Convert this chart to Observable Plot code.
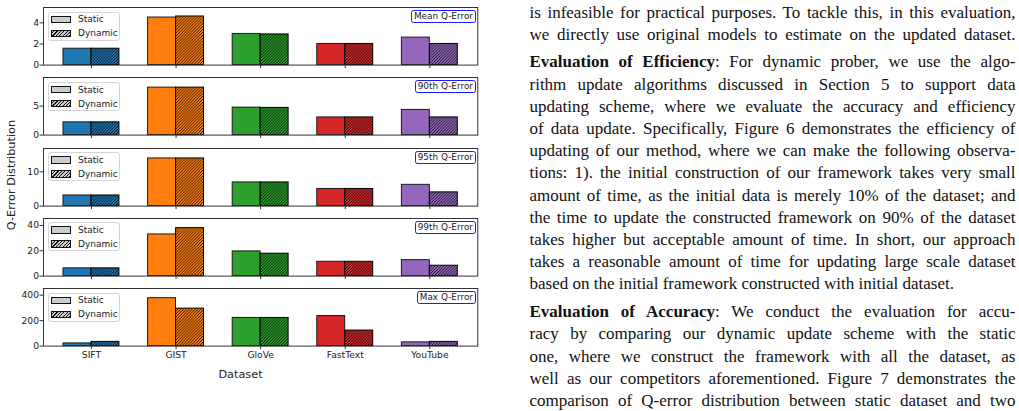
<!DOCTYPE html>
<html>
<head>
<meta charset="utf-8">
<script src="https://cdn.jsdelivr.net/npm/d3@7"></script>
<script src="https://cdn.jsdelivr.net/npm/@observablehq/plot@0.6"></script>
<style>
  html, body { margin: 0; padding: 0; background: #fff; }
  #page { position: relative; width: 1019px; height: 411px; overflow: hidden; background: #fff; }
  #chart { position: absolute; left: 0; top: 0; width: 520px; height: 411px; }
  .panel { position: absolute; left: 0; }
  .legend { position: absolute; left: 47.5px; width: 72.5px; height: 29px; box-sizing: border-box;
    border: 1px solid #d4d4d4; border-radius: 2.5px; background: rgba(255,255,255,0.85);
    font-family: "DejaVu Sans", sans-serif; font-size: 9px; color: #222; }
  .legend .row { position: absolute; left: 2.5px; height: 12px; display: flex; align-items: center; }
  .legend .patch { width: 18px; height: 5.5px; border: 1px solid #111; box-sizing: content-box; margin-right: 7px; }
  .legend .static { background: #cccccc; }
  .legend .dyn { background: repeating-linear-gradient(-45deg, #111 0 0.8px, #cccccc 0.8px 2.4px); }
  .tag { position: absolute; right: 44.5px; height: 13px; box-sizing: border-box; padding: 0 1.5px 0 2px;
    border: 1px solid #1a1aff; border-radius: 2.5px; background: #fff;
    font-family: "DejaVu Sans", sans-serif; font-size: 8.9px; line-height: 11px; color: #222; white-space: nowrap; }
  .xlabel { position: absolute; left: 240.5px; top: 374px; transform: translate(-50%, -50%);
    font-family: "DejaVu Sans", sans-serif; font-size: 11.3px; color: #222; white-space: nowrap; }
  .ylabel { position: absolute; left: 11px; top: 175px; transform: translate(-50%, -50%) rotate(-90deg);
    font-family: "DejaVu Sans", sans-serif; font-size: 11.3px; color: #222; white-space: nowrap; }
  #text { position: absolute; left: 529.5px; top: 0; width: 486px; height: 411px;
    font-family: "Liberation Serif", "Times New Roman", serif; font-size: 17px; color: #111; }
  #text .line { position: absolute; left: 0; width: 486px; height: 20px; line-height: 20px; white-space: nowrap; }
  #text .line span { white-space: nowrap; }
</style>
</head>
<body>
<div id="page">
  <svg width="0" height="0" style="position:absolute" id="defs-svg"><defs id="defs"></defs></svg>
  <div id="chart"></div>
  <div id="text"></div>
</div>
<script>
// ---------------- data ----------------
const datasets = ["SIFT", "GIST", "GloVe", "FastText", "YouTube"];
const metrics = ["Mean Q-Error", "90th Q-Error", "95th Q-Error", "99th Q-Error", "Max Q-Error"];
const seriesNames = ["Static", "Dynamic"];

const meanStatic  = [1.55, 4.5, 2.95, 2.0, 2.6];
const meanDynamic = [1.55, 4.6, 2.9, 2.0, 2.0];
const p90Static   = [2.2, 8.2, 4.75, 3.05, 4.35];
const p90Dynamic  = [2.2, 8.2, 4.7, 3.05, 3.05];
const p95Static   = [3.1, 13.9, 6.9, 5.0, 6.2];
const p95Dynamic  = [3.1, 13.9, 6.9, 5.0, 4.0];
const p99Static   = [6.1, 32.9, 19.5, 11.3, 12.6];
const p99Dynamic  = [6.1, 37.9, 17.7, 11.3, 8.2];
const maxStatic   = [21, 376, 221, 236, 29];
const maxDynamic  = [33, 294, 221, 122, 33];

const yMax   = [5.45, 9.95, 16.8, 45.5, 452];
const yTicks = [[0, 2, 4], [0, 5], [0, 10], [0, 20, 40], [0, 200, 400]];

const xLabel = "Dataset";
const yLabel = "Q-Error Distribution";

const staticSeries  = [meanStatic, p90Static, p95Static, p99Static, maxStatic];
const dynamicSeries = [meanDynamic, p90Dynamic, p95Dynamic, p99Dynamic, maxDynamic];

// ---------------- styling ----------------
const palette = ["#1f77b4", "#ff7f0e", "#2ca02c", "#d62728", "#9467bd"];
const panelTop = [7, 77.25, 147.5, 217.75, 288];
const panelH = 57.6;

// hatch patterns
const defs = d3.select("#defs");
palette.forEach((c, k) => {
  const s = 2.9;
  const p = defs.append("pattern").attr("id", "hatch-" + k)
    .attr("patternUnits", "userSpaceOnUse").attr("width", s).attr("height", s);
  p.append("rect").attr("width", s).attr("height", s).attr("fill", c);
  p.append("path").attr("d", `M-1,1 L1,-1 M0,${s} L${s},0 M${s - 1},${s + 1} L${s + 1},${s - 1}`)
    .attr("stroke", "#000").attr("stroke-width", 0.85);
});

const chart = document.getElementById("chart");
metrics.forEach((m, i) => {
  const rows = datasets.map((d, k) => ({ dataset: d, k, stat: staticSeries[i][k], dyn: dynamicSeries[i][k] }));
  const last = i === metrics.length - 1;
  const mt = 4, mb = last ? 22 : 6;
  const plot = Plot.plot({
    width: 520,
    height: panelH + mt + mb,
    marginLeft: 43, marginRight: 42.7, marginTop: mt, marginBottom: mb,
    style: { fontFamily: "DejaVu Sans, sans-serif", fontSize: "9.2px", color: "#222", background: "transparent", overflow: "visible" },
    x: { domain: datasets, paddingInner: 0.339, paddingOuter: 0.236, round: false, label: null },
    y: { domain: [0, yMax[i]], label: null },
    color: { type: "identity" },
    marks: [
      Plot.barY(rows, { x: "dataset", y: "stat", fill: d => palette[d.k], stroke: "#1a1a1a", strokeWidth: 1, insetRight: 28 }),
      Plot.barY(rows, { x: "dataset", y: "dyn", fill: d => `url(#hatch-${d.k})`, stroke: "#000", strokeWidth: 1, insetLeft: 28 }),
      Plot.axisY({ ticks: yTicks[i], tickFormat: d => String(d), tickSize: 3.5, tickPadding: 1, label: null, stroke: "#333" }),
      Plot.axisX({ tickSize: 3.5, tickPadding: 1.5, label: null, stroke: "#333", tickFormat: last ? d => d : () => "" }),
      Plot.frame({ stroke: "#333", strokeWidth: 1 })
    ]
  });
  plot.classList.add("panel");
  plot.style.top = (panelTop[i] - mt) + "px";
  chart.appendChild(plot);

  // legend
  const lg = document.createElement("div");
  lg.className = "legend";
  lg.style.top = (panelTop[i] + 4.7) + "px";
  seriesNames.forEach((name, j) => {
    const row = document.createElement("div");
    row.className = "row";
    row.style.top = (j === 0 ? 0.8 : 14.6) + "px";
    const patch = document.createElement("div");
    patch.className = "patch " + (j === 0 ? "static" : "dyn");
    const t = document.createElement("span");
    t.textContent = name;
    row.appendChild(patch); row.appendChild(t);
    lg.appendChild(row);
  });
  chart.appendChild(lg);

  // metric tag
  const tag = document.createElement("div");
  tag.className = "tag";
  tag.style.top = (panelTop[i] + 3.2) + "px";
  tag.textContent = m;
  chart.appendChild(tag);
});

const xl = document.createElement("div"); xl.className = "xlabel"; xl.textContent = xLabel; chart.appendChild(xl);
const yl = document.createElement("div"); yl.className = "ylabel"; yl.textContent = yLabel; chart.appendChild(yl);

// ---------------- body text ----------------
const textLines = [
  { t: "is infeasible for practical purposes. To tackle this, in this evaluation," },
  { t: "we directly use original models to estimate on the updated dataset." },
  { b: "Evaluation of Efficiency", t: ": For dynamic prober, we use the algo-", para: true },
  { t: "rithm update algorithms discussed in Section 5 to support data" },
  { t: "updating scheme, where we evaluate the accuracy and efficiency" },
  { t: "of data update. Specifically, Figure 6 demonstrates the efficiency of" },
  { t: "updating of our method, where we can make the following observa-" },
  { t: "tions: 1). the initial construction of our framework takes very small" },
  { t: "amount of time, as the initial data is merely 10% of the dataset; and" },
  { t: "the time to update the constructed framework on 90% of the dataset" },
  { t: "takes higher but acceptable amount of time. In short, our approach" },
  { t: "takes a reasonable amount of time for updating large scale dataset" },
  { t: "based on the initial framework constructed with initial dataset.", last: true },
  { b: "Evaluation of Accuracy", t: ": We conduct the evaluation for accu-", para: true },
  { t: "racy by comparing our dynamic update scheme with the static" },
  { t: "one, where we construct the framework with all the dataset, as" },
  { t: "well as our competitors aforementioned. Figure 7 demonstrates the" },
  { t: "comparison of Q-error distribution between static dataset and two" }
];
const firstCenter = 12.5, pitch = 22.2, paraGap = 5.5;
const textBox = document.getElementById("text");
let cy = firstCenter - pitch;
textLines.forEach(L => {
  cy += pitch + (L.para ? paraGap : 0);
  const div = document.createElement("div");
  div.className = "line";
  div.style.top = (cy - 10) + "px";
  const span = document.createElement("span");
  if (L.b) { const b = document.createElement("b"); b.textContent = L.b; span.appendChild(b); }
  span.appendChild(document.createTextNode(L.t));
  div.appendChild(span);
  textBox.appendChild(div);
  if (!L.last) {
    const w = span.getBoundingClientRect().width;
    const spaces = ((L.b || "") + L.t).split(" ").length - 1;
    const extra = (486 - w) / spaces;
    span.style.wordSpacing = extra + "px";
  }
});
</script>
</body>
</html>
